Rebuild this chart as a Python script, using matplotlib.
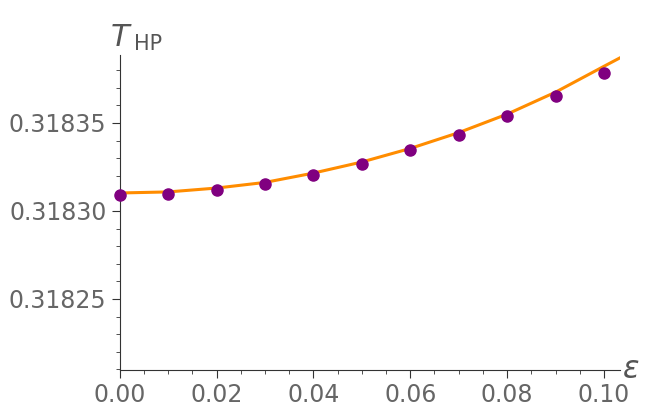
import matplotlib
matplotlib.use("Agg")
import matplotlib.pyplot as plt
from matplotlib.ticker import MultipleLocator, FormatStrFormatter

# data points (epsilon, T_HP)
eps = [0.00, 0.01, 0.02, 0.03, 0.04, 0.05, 0.06, 0.07, 0.08, 0.09, 0.10]
t_hp = [0.3183093, 0.3183097, 0.3183119, 0.3183152, 0.3183205, 0.3183267,
        0.3183345, 0.3183434, 0.3183540, 0.3183653, 0.3183782]

# fitted curve
fit_eps = [0.00, 0.01, 0.02, 0.03, 0.04, 0.05, 0.06, 0.07, 0.08, 0.09, 0.10, 0.1033]
fit_t = [0.3183102, 0.3183108, 0.3183130, 0.3183162, 0.3183215, 0.3183278,
         0.3183355, 0.3183445, 0.3183550, 0.3183675, 0.3183822, 0.3183870]

fig = plt.figure(figsize=(6.54, 4.15), dpi=100)
ax = fig.add_axes([0.183, 0.108, 0.765, 0.759])

ax.plot(fit_eps, fit_t, color="#FF8C00", lw=2.2, zorder=2)
ax.plot(eps, t_hp, "o", color="#800080", ms=8, zorder=3, clip_on=False)

ax.set_xlim(0, 0.1033)
ax.set_ylim(0.3182095, 0.3183885)

ax.xaxis.set_major_locator(MultipleLocator(0.02))
ax.xaxis.set_minor_locator(MultipleLocator(0.005))
ax.xaxis.set_major_formatter(FormatStrFormatter("%.2f"))
ax.yaxis.set_major_locator(MultipleLocator(0.00005))
ax.yaxis.set_minor_locator(MultipleLocator(0.00001))
ax.yaxis.set_major_formatter(FormatStrFormatter("%.5f"))

for s in ["top", "right"]:
    ax.spines[s].set_visible(False)
for s in ["left", "bottom"]:
    ax.spines[s].set_color("#333333")
ax.tick_params(which="major", length=6, width=0.8, color="#333333",
               labelsize=17, labelcolor="#666666")
ax.tick_params(which="minor", length=3, width=0.6, color="#333333")

fig.text(0.168, 0.91, r"$T$", fontsize=22, color="#555555", ha="left", va="center")
fig.text(0.205, 0.895, "HP", fontsize=15, color="#555555", ha="left", va="center")
fig.text(0.965, 0.11, r"$\epsilon$", fontsize=22, color="#555555", ha="center", va="center")

fig.savefig("out.png", dpi=100)
